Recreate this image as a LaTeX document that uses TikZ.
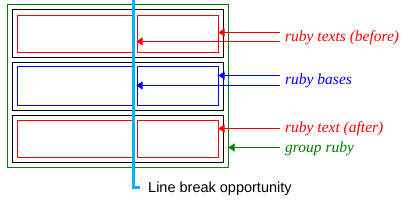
\documentclass[tikz,border=0pt]{standalone}
\usepackage{fontspec}
\setmainfont{Liberation Serif}
\setsansfont{Liberation Sans}
\usepackage{tikz}
\usetikzlibrary{
  arrows.meta,
  positioning
}
\usepackage{xcolor}
\definecolor{breakblue}{RGB}{0,180,245}
\definecolor{rubygreen}{RGB}{0,128,0}

\begin{document}
\begin{tikzpicture}[x=1pt, y=-1pt,
  box/.style={draw, line width=1pt, inner sep=0pt, anchor=north west},
  lbl/.style={anchor=base west, inner sep=0pt, font=\itshape\fontsize{15.5}{16}\selectfont},
  ptr/.style={line width=1pt, -{Triangle[length=6pt,width=8pt]}}]
  \useasboundingbox (0,0) rectangle (408,201);

  % group ruby round the three rows
  \node[box, draw=rubygreen, minimum width=221pt, minimum height=163pt] (grp) at (6.5,3.5) {};

  % rows: outer black box, two inner boxes
  \foreach \r/\t/\h/\it/\ih/\c in {1/8.5/48/14.5/37/red, 2/61.5/48/65.5/39/blue, 3/114.5/47/119.5/37/red}{
    \node[box, minimum width=211pt, minimum height=\h] (row\r) at (11.5,\t) {};
    \node[box, draw=\c, minimum width=115pt, minimum height=\ih] (l\r) at (16.5,\it) {};
    \node[box, draw=\c, minimum width=81pt, minimum height=\ih] (r\r) at (136.5,\it) {};
  }

  % line break opportunity
  \coordinate (brk) at (133.5,0);
  \node[anchor=base west, inner sep=0pt, xshift=8pt, font=\sffamily\fontsize{14.5}{15}\selectfont] (lbo) at (140,192) {Line break opportunity};
  \coordinate (lbe) at (140,187);
  \draw[breakblue, line width=3pt] (brk) |- (lbe);

  % labels and pointers
  \node[lbl, red] (tbef) at (285,41) {ruby texts (before)};
  \coordinate (tb1) at (280,32.5);
  \coordinate (tb2) at (280,41.5);
  \draw[ptr, red] (tb1) -- (r1.east |- tb1);
  \draw[ptr, red] (tb2) -- (r1.west |- tb2);

  \node[lbl, blue] (bases) at (285,84) {ruby bases};
  \coordinate (bs1) at (280,75.5);
  \coordinate (bs2) at (280,85.5);
  \draw[ptr, blue] (bs1) -- (r2.east |- bs1);
  \draw[ptr, blue] (bs2) -- (r2.west |- bs2);

  \node[lbl, red] (taft) at (285,132.5) {ruby text (after)};
  \coordinate (ta1) at (280,128.5);
  \draw[ptr, red] (ta1) -- (r3.east |- ta1);

  \node[lbl, rubygreen] (gruby) at (285,152) {group ruby};
  \coordinate (gr1) at (280,147.5);
  \draw[ptr, rubygreen] (gr1) -- (grp.east |- gr1);
\end{tikzpicture}
\end{document}
